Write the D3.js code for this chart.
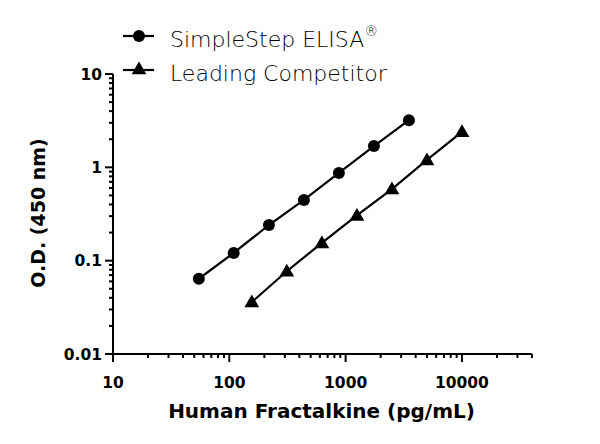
<!DOCTYPE html>
<html>
<head>
<meta charset="utf-8">
<script src="https://cdn.jsdelivr.net/npm/d3@7"></script>
<style>
  body { margin: 0; background: #fff; }
  svg { display: block; }
  text { font-family: "DejaVu Sans", sans-serif; fill: #000; }
</style>
</head>
<body>
<div id="chart"></div>
<script>
'use strict'

// data
const simpleConc = [54.7, 109, 219, 438, 875, 1750, 3500]
const simpleOD = [0.064, 0.121, 0.241, 0.447, 0.87, 1.69, 3.2]
const compConc = [156, 312, 625, 1250, 2500, 5000, 10000]
const compOD = [0.036, 0.077, 0.155, 0.305, 0.585, 1.2, 2.4]
const xTicks = [10, 100, 1000, 10000]
const yTicks = [0.01, 0.1, 1, 10]
const seriesNames = ['SimpleStep ELISA', 'Leading Competitor']

const svgWidth = 600
const svgHeight = 444
const margin = { left: 113, right: 68, top: 74, bottom: 90 }
const width = svgWidth - margin.left - margin.right
const height = svgHeight - margin.top - margin.bottom

const svg = d3.select('#chart')
    .append('svg')
    .attr('width', svgWidth)
    .attr('height', svgHeight)

const g = svg.append('g')
    .attr('transform', `translate(${margin.left},${margin.top})`)

const x = d3.scaleLog().domain([10, 40000]).range([0, width])
const y = d3.scaleLog().domain([0.01, 10]).range([height, 0])

// minor ticks: every integer multiple within each decade
const minor = (lo, hi) => {
    const out = []
    for (let p = lo; p < hi; p *= 10) {
        for (let k = 2; k <= 9; k++) if (p * k <= hi) out.push(p * k)
    }
    return out
}

// y axis
const yAxis = g.append('g')
yAxis.append('line')
    .attr('x1', 0).attr('x2', 0)
    .attr('y1', 0).attr('y2', height + 8)
    .attr('stroke', '#000').attr('stroke-width', 2)
yAxis.selectAll('.ymaj').data(yTicks).join('line')
    .attr('x1', -8).attr('x2', 0)
    .attr('y1', d => y(d)).attr('y2', d => y(d))
    .attr('stroke', '#000').attr('stroke-width', 2)
yAxis.selectAll('.ymin').data(minor(0.01, 10)).join('line')
    .attr('x1', -4).attr('x2', 0)
    .attr('y1', d => y(d)).attr('y2', d => y(d))
    .attr('stroke', '#000').attr('stroke-width', 2)
yAxis.selectAll('text').data(yTicks).join('text')
    .attr('x', -11)
    .attr('y', d => y(d))
    .attr('dy', '0.36em')
    .attr('text-anchor', 'end')
    .attr('font-size', 15.5)
    .attr('font-weight', 'bold')
    .text(d => d)

// x axis
const xAxis = g.append('g').attr('transform', `translate(0,${height})`)
xAxis.append('line')
    .attr('x1', -8).attr('x2', width)
    .attr('y1', 0).attr('y2', 0)
    .attr('stroke', '#000').attr('stroke-width', 2)
xAxis.selectAll('.xmaj').data(xTicks).join('line')
    .attr('x1', d => x(d)).attr('x2', d => x(d))
    .attr('y1', 0).attr('y2', 8)
    .attr('stroke', '#000').attr('stroke-width', 2)
xAxis.selectAll('.xmin').data(minor(10, 40000)).join('line')
    .attr('x1', d => x(d)).attr('x2', d => x(d))
    .attr('y1', 0).attr('y2', 4)
    .attr('stroke', '#000').attr('stroke-width', 2)
xAxis.selectAll('text').data(xTicks).join('text')
    .attr('x', d => x(d))
    .attr('y', 34)
    .attr('text-anchor', 'middle')
    .attr('font-size', 15.5)
    .attr('font-weight', 'bold')
    .text(d => d)

// axis titles
g.append('text')
    .attr('x', width / 2 - 1)
    .attr('y', height + 64)
    .attr('text-anchor', 'middle')
    .attr('font-size', 20)
    .attr('font-weight', 'bold')
    .text('Human Fractalkine (pg/mL)')

g.append('text')
    .attr('transform', `translate(${-68},${height / 2 - 1}) rotate(-90)`)
    .attr('text-anchor', 'middle')
    .attr('font-size', 19)
    .attr('font-weight', 'bold')
    .text('O.D. (450 nm)')

// series
const line = d3.line().x(d => x(d[0])).y(d => y(d[1]))
const simple = d3.zip(simpleConc, simpleOD)
const comp = d3.zip(compConc, compOD)

const tri = d3.symbol().type(d3.symbolTriangle).size(95)

g.append('path').datum(simple).attr('d', line)
    .attr('fill', 'none').attr('stroke', '#000').attr('stroke-width', 2.2)
g.append('path').datum(comp).attr('d', line)
    .attr('fill', 'none').attr('stroke', '#000').attr('stroke-width', 2.2)

g.selectAll('.dot').data(simple).join('circle')
    .attr('cx', d => x(d[0])).attr('cy', d => y(d[1]))
    .attr('r', 6).attr('fill', '#000')
g.selectAll('.tri').data(comp).join('path')
    .attr('d', tri)
    .attr('transform', d => `translate(${x(d[0])},${y(d[1]) + 1})`)
    .attr('fill', '#000')

// legend
const legend = svg.append('g').attr('transform', 'translate(123,36)')
seriesNames.forEach((name, i) => {
    const row = legend.append('g').attr('transform', `translate(0,${i * 34})`)
    row.append('line')
        .attr('x1', 0).attr('x2', 31)
        .attr('stroke', '#000').attr('stroke-width', 2.2)
    if (i === 0) {
        row.append('circle').attr('cx', 16).attr('r', 6).attr('fill', '#000')
    } else {
        row.append('path').attr('d', tri).attr('transform', 'translate(16,0)').attr('fill', '#000')
    }
    const t = row.append('text')
        .attr('x', 47)
        .attr('y', 11)
        .attr('font-size', 22)
        .attr('font-weight', 300)
        .text(name)
    if (i === 0) {
        t.append('tspan').attr('dy', -11).attr('font-size', 14).text('®')
    }
})
</script>
</body>
</html>
